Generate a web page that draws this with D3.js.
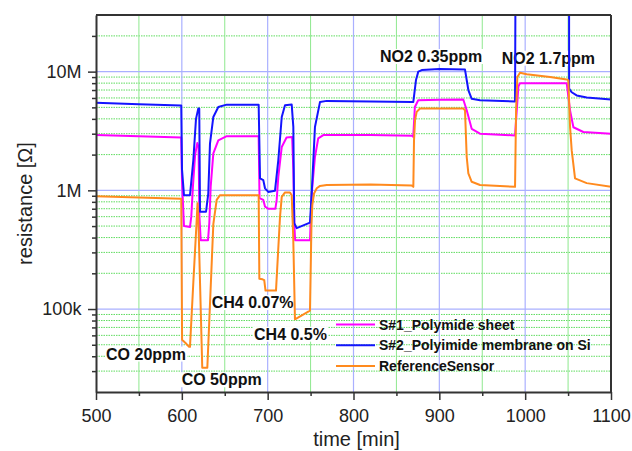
<!DOCTYPE html>
<html><head><meta charset="utf-8">
<script src="https://cdn.jsdelivr.net/npm/d3@7"></script>
<style>
html,body{margin:0;padding:0;background:#fff;}
svg{display:block;font-family:Arial,"Liberation Sans",sans-serif;}
</style></head>
<body>
<svg id="chart" width="632" height="451"></svg>
<script>
// ---------- data ----------
const xTickValues = [500, 600, 700, 800, 900, 1000, 1100];
const xMinorTicks = [550, 650, 750, 850, 950, 1050];
const yTickValues = [1e5, 1e6, 1e7];
const yTickLabels = ["100k", "1M", "10M"];
const seriesNames = ["S#1_Polymide sheet", "S#2_Polyimide membrane on Si", "ReferenceSensor"];

const s1Time = [500,550,599.3,600.2,602.5,609.5,611,613,615.5,618,619.5,620.5,622,630.5,632,633.6,636.7,642.5,652.3,689.5,690.5,694.9,696.9,700.7,709,710.5,712.4,716.4,722,728.5,729.9,731,732,749.3,751.3,755.1,758.9,764.8,820,868.5,869.6,871.5,875.4,900,927.9,931.9,937.7,947.4,988.2,992.1,994,1048.4,1052.3,1056.2,1067.8,1100];
const s1Val  = [2.92e6,2.85e6,2.79e6,1.2e6,0.5e6,0.49e6,0.6e6,1.1e6,2.0e6,2.5e6,2.3e6,0.6e6,0.38e6,0.38e6,0.53e6,1.07e6,2.05e6,2.64e6,2.86e6,2.86e6,0.86e6,0.83e6,0.73e6,0.70e6,0.70e6,0.83e6,1.30e6,2.32e6,2.79e6,2.82e6,1.5e6,0.53e6,0.38e6,0.38e6,0.94e6,1.91e6,2.74e6,2.92e6,2.92e6,2.88e6,2.82e6,5.04e6,5.74e6,5.8e6,5.82e6,4.73e6,3.3e6,3.0e6,2.9e6,7.5e6,8.0e6,8.0e6,4.7e6,3.4e6,3.1e6,3.0e6];

const s2Time = [500,550,599.3,600.2,602.5,609.5,613.4,616.5,619.2,620.3,621.2,628.2,630.8,632.8,636.7,642.5,652.3,689.5,691.1,694.9,696.9,700.7,708.5,712.4,716.4,720.2,728,729.9,731,733.8,749.3,751.3,755.1,761,768.8,820,868.5,869.7,872.8,875.5,879.5,900,929.9,933.8,937.7,947.4,988.2,989.4,1051.1,1051.2,1054.2,1060,1071.7,1100];
const s2Val  = [5.48e6,5.3e6,5.18e6,1.5e6,0.91e6,0.91e6,1.8e6,4.0e6,4.9e6,4.9e6,0.66e6,0.66e6,0.94e6,2.48e6,4.15e6,5.04e6,5.27e6,5.27e6,1.26e6,1.22e6,1.04e6,0.97e6,0.99e6,1.80e6,4.15e6,5.21e6,5.28e6,3.42e6,0.53e6,0.48e6,0.535e6,0.94e6,3.42e6,5.56e6,5.67e6,5.6e6,5.55e6,5.55e6,8.5e6,10.0e6,10.3e6,10.5e6,10.4e6,7.0e6,5.9e6,5.74e6,5.6e6,1e9,1e9,7.2e6,6.7e6,6.3e6,6.05e6,5.82e6];

const refTime = [500,550,599.3,600.3,604,608.5,609.5,613.4,617.3,618.3,619.3,623.8,629.7,636.7,640.6,644.5,689.5,690.3,694,696,697.5,709.7,714.4,716.4,720.2,726,728,729.8,731.8,749.3,751,752,754,757.2,761,768.8,820,867.8,869.7,870.5,871.7,873.6,877.5,927.9,929.9,931.9,933.8,937.7,947.4,988.2,989.4,990.9,994,1001.8,1029,1048.4,1050.3,1052.3,1054.2,1058.1,1071.7,1100];
const refVal = [0.89e6,0.87e6,0.85e6,55e3,52e3,48e3,48e3,168e3,0.56e6,0.78e6,0.56e6,32e3,32e3,0.52e6,0.83e6,0.91e6,0.91e6,0.18e6,0.178e6,0.175e6,0.143e6,0.143e6,0.6e6,0.88e6,0.96e6,0.96e6,0.91e6,0.4e6,82e3,97e3,0.5e6,0.75e6,0.94e6,1.04e6,1.09e6,1.11e6,1.12e6,1.1e6,1.07e6,2.65e6,3.9e6,4.58e6,4.89e6,4.89e6,4.73e6,1.91e6,1.39e6,1.18e6,1.11e6,1.07e6,4.73e6,9.0e6,9.8e6,9.5e6,9.0e6,8.6e6,8.45e6,3.42e6,2.18e6,1.26e6,1.15e6,1.07e6];

const annoText = ["CO 20ppm", "CO 50ppm", "CH4 0.07%", "CH4 0.5%", "NO2 0.35ppm", "NO2 1.7ppm"];
const annoTime = [511.7, 599.8, 634.8, 684.1, 830.9, 972.7];
const annoVal  = [37.5e3, 22.8e3, 101.9e3, 55.2e3, 12.05e6, 11.67e6];

// ---------- layout ----------
const W = 632, H = 451;
const m = {left: 96, right: 21, top: 15, bottom: 59};
const iw = W - m.left - m.right, ih = H - m.top - m.bottom;
const colors = ["#ff00ff", "#1414ff", "#ff8a1e"];

const svg = d3.select("#chart");
const x = d3.scaleLinear().domain([500, 1100]).range([m.left, m.left + iw]);
const y = d3.scaleLog().domain([2e4, 3e7]).range([m.top + ih, m.top]);

svg.append("defs").append("clipPath").attr("id", "clip")
  .append("rect").attr("x", m.left).attr("y", m.top).attr("width", iw).attr("height", ih);

// grid
const grid = svg.append("g");
const minorY = [];
[1e4, 1e5, 1e6, 1e7].forEach(d => { for (let k = 2; k <= 9; k++) { const v = d * k; if (v > 2e4 && v < 3e7) minorY.push(v); } });
grid.selectAll(".gmy").data(minorY).join("line")
  .attr("x1", m.left).attr("x2", m.left + iw)
  .attr("y1", d => y(d)).attr("y2", d => y(d))
  .attr("stroke", "#5fdc5f").attr("stroke-width", 1).attr("stroke-dasharray", "1.5,1");
grid.selectAll(".gmx").data(xMinorTicks).join("line")
  .attr("x1", d => x(d)).attr("x2", d => x(d))
  .attr("y1", m.top).attr("y2", m.top + ih)
  .attr("stroke", "#8ee88e").attr("stroke-width", 1);
grid.selectAll(".gMy").data(yTickValues).join("line")
  .attr("x1", m.left).attr("x2", m.left + iw)
  .attr("y1", d => y(d)).attr("y2", d => y(d))
  .attr("stroke", "#aab0ff").attr("stroke-width", 1.2);
grid.selectAll(".gMx").data(xTickValues.slice(1, -1)).join("line")
  .attr("x1", d => x(d)).attr("x2", d => x(d))
  .attr("y1", m.top).attr("y2", m.top + ih)
  .attr("stroke", "#aab0ff").attr("stroke-width", 1.2);

// annotations with white boxes
const ann = svg.append("g").attr("font-weight", "bold").attr("font-size", 16).attr("fill", "#111");
annoText.forEach((t, i) => {
  const g = ann.append("g");
  const tx = g.append("text").attr("x", x(annoTime[i])).attr("y", y(annoVal[i])).text(t);
  const bb = tx.node().getBBox();
  g.insert("rect", "text").attr("x", bb.x - 1).attr("y", bb.y + 1).attr("width", bb.width + 2).attr("height", bb.height - 2).attr("fill", "#fff");
});

// series
const line = d3.line().x(d => x(d[0])).y(d => y(d[1]));
const series = [
  d3.zip(s1Time, s1Val),
  d3.zip(s2Time, s2Val),
  d3.zip(refTime, refVal)
];
const plot = svg.append("g").attr("clip-path", "url(#clip)");
[0, 1, 2].forEach(i => {
  plot.append("path").attr("d", line(series[i])).attr("fill", "none")
    .attr("stroke", colors[i]).attr("stroke-width", 2).attr("stroke-linejoin", "round");
});

// axes
const axisColor = "#333";
const xAxis = svg.append("g").attr("transform", `translate(0,${m.top + ih})`)
  .call(d3.axisBottom(x).tickValues(xTickValues).tickFormat(d3.format("d")).tickSize(8).tickSizeOuter(0));
svg.append("g").attr("transform", `translate(0,${m.top + ih})`)
  .call(d3.axisBottom(x).tickValues(xMinorTicks).tickFormat("").tickSize(4).tickSizeOuter(0))
  .call(g => g.select(".domain").remove());
const yAxis = svg.append("g").attr("transform", `translate(${m.left},0)`)
  .call(d3.axisLeft(y).tickValues(yTickValues).tickFormat((d, i) => yTickLabels[i]).tickSize(8).tickSizeOuter(0));
svg.append("g").attr("transform", `translate(${m.left},0)`)
  .call(d3.axisLeft(y).tickValues(minorY).tickFormat("").tickSize(4).tickSizeOuter(0))
  .call(g => g.select(".domain").remove());
svg.selectAll(".domain").attr("stroke", axisColor).attr("stroke-width", 2);
svg.selectAll(".tick line").attr("stroke", axisColor).attr("stroke-width", 1.5);
xAxis.selectAll("text").attr("font-size", 18).attr("fill", "#222").attr("dy", "1.05em");
yAxis.selectAll("text").attr("font-size", 18).attr("fill", "#222").attr("dx", "-0.2em");
// frame top/right
svg.append("line").attr("x1", m.left).attr("x2", m.left + iw).attr("y1", m.top).attr("y2", m.top).attr("stroke", axisColor).attr("stroke-width", 2);
svg.append("line").attr("x1", m.left + iw).attr("x2", m.left + iw).attr("y1", m.top).attr("y2", m.top + ih).attr("stroke", axisColor).attr("stroke-width", 2);

// axis titles
svg.append("text").attr("x", m.left + iw / 2 + 3).attr("y", 446).attr("text-anchor", "middle")
  .attr("font-size", 20).attr("fill", "#222").text("time [min]");
svg.append("text").attr("transform", `translate(32,${m.top + ih / 2}) rotate(-90)`).attr("text-anchor", "middle")
  .attr("font-size", 20).attr("fill", "#222").text("resistance [Ω]");

// legend
const lg = svg.append("g").attr("font-weight", "bold").attr("font-size", 14).attr("fill", "#111");
seriesNames.forEach((n, i) => {
  const yy = 324.5 + i * 20.7;
  lg.append("line").attr("x1", 336).attr("x2", 375).attr("y1", yy).attr("y2", yy).attr("stroke", colors[i]).attr("stroke-width", 2);
  lg.append("text").attr("x", 379).attr("y", yy + 5).text(n);
});
</script>
</body></html>
